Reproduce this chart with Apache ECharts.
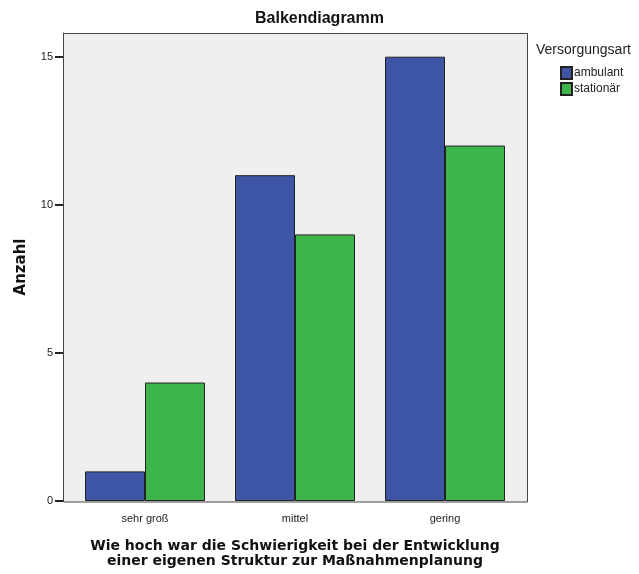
<!DOCTYPE html>
<html>
<head>
<meta charset="utf-8">
<script src="https://cdn.jsdelivr.net/npm/echarts@6/dist/echarts.min.js"></script>
<style>
  html, body { margin: 0; padding: 0; background: #fff; }
  #chart { width: 639px; height: 574px; }
</style>
</head>
<body>
<div id="chart"></div>
<script>
const categories = ['sehr groß', 'mittel', 'gering'];
const ambulant = [1, 11, 15];
const stationaer = [4, 9, 12];
const seriesNames = ['ambulant', 'stationär'];

const font = 'Liberation Sans, Arial, sans-serif';
const wideFont = 'DejaVu Sans, sans-serif';
const chart = echarts.init(document.getElementById('chart'));

// the SPSS frame is a little wider than the category band
let option = {
  animation: false,
  title: [{
    text: 'Balkendiagramm',
    left: 'center',
    top: 6,
    textStyle: { fontFamily: font, fontSize: 16, fontWeight: 'bold', color: '#111' }
  }, {
    text: 'Versorgungsart',
    left: 531,
    top: 38,
    textStyle: { fontFamily: font, fontSize: 14, fontWeight: 'normal', color: '#222' }
  }],
  legend: {
    orient: 'vertical',
    left: 555,
    top: 61,
    itemWidth: 11,
    itemHeight: 12,
    itemGap: 2,
    icon: 'rect',
    textStyle: { fontFamily: font, fontSize: 12, color: '#222', padding: [0, 0, 0, -3] },
    data: seriesNames
  },
  graphic: [{
    type: 'rect',
    z: -10,
    shape: { x: 63.5, y: 33.5, width: 464, height: 468.5 },
    style: { fill: '#f0efef', stroke: '#444', lineWidth: 1 }
  }],
  grid: {
    left: 70, right: 119, top: 33, bottom: 72
  },
  xAxis: {
    type: 'category',
    data: categories,
    name: 'Wie hoch war die Schwierigkeit bei der Entwicklung\neiner eigenen Struktur zur Maßnahmenplanung',
    nameLocation: 'middle',
    nameGap: 38,
    nameTextStyle: { fontFamily: wideFont, fontSize: 14, fontWeight: 'bold', color: '#111', lineHeight: 15 },
    axisLine: { show: false },
    axisTick: { alignWithLabel: true, length: 8, lineStyle: { color: '#222', width: 1.5 } },
    axisLabel: { fontFamily: font, fontSize: 11, color: '#222', margin: 12 }
  },
  yAxis: {
    type: 'value',
    min: 0,
    max: 15.8,
    interval: 5,
    offset: 7,
    name: 'Anzahl',
    nameLocation: 'middle',
    nameGap: 34,
    nameTextStyle: { fontFamily: wideFont, fontSize: 15, fontWeight: 'bold', color: '#111' },
    splitLine: { show: false },
    axisLine: { show: true, lineStyle: { color: '#444' } },
    axisTick: { show: true, length: 8, lineStyle: { color: '#222', width: 2 } },
    axisLabel: { fontFamily: font, fontSize: 11, color: '#222', margin: 10, showMaxLabel: false }
  },
  series: [{
    name: seriesNames[0],
    type: 'bar',
    data: ambulant,
    barGap: '0%',
    barCategoryGap: '20%',
    itemStyle: { color: '#3d55a4', borderColor: '#222', borderWidth: 1 }
  }, {
    name: seriesNames[1],
    type: 'bar',
    data: stationaer,
    itemStyle: { color: '#3db54a', borderColor: '#222', borderWidth: 1 }
  }]
};

chart.setOption(option);
</script>
</body>
</html>
